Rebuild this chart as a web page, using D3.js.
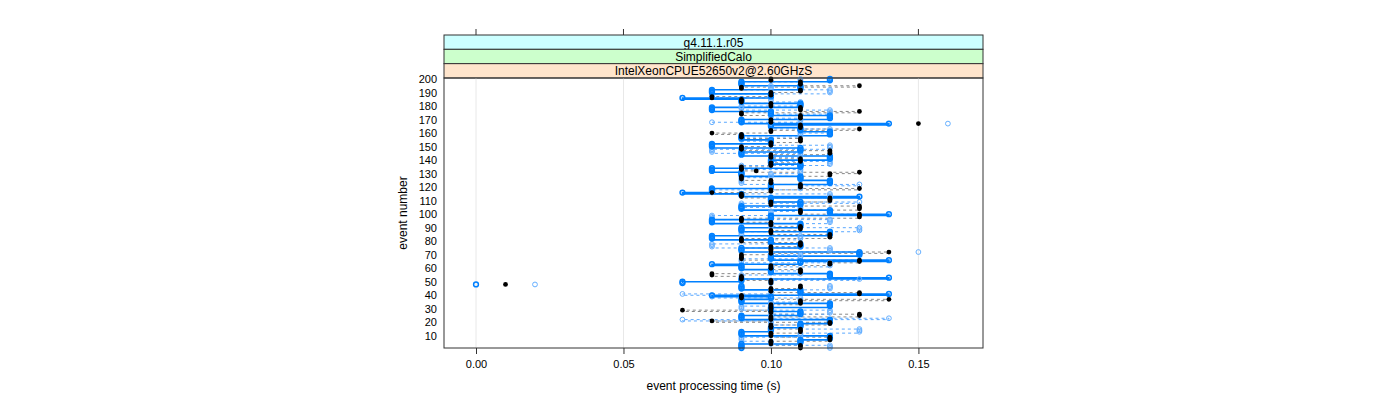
<!DOCTYPE html>
<html><head><meta charset="utf-8">
<script src="https://cdn.jsdelivr.net/npm/d3@7"></script>
<style>body{margin:0;background:#fff;} svg{display:block;font-family:"Liberation Sans",Arial,sans-serif;}</style>
</head><body><svg id="c" width="1400" height="400"></svg>
<script>
const stripLabels = ["g4.11.1.r05", "SimplifiedCalo", "IntelXeonCPUE52650v2@2.60GHzS"];
const xTicks = [0.00, 0.05, 0.10, 0.15];
const yTicks = [10,20,30,40,50,60,70,80,90,100,110,120,130,140,150,160,170,180,190,200];
const events = d3.range(1, 201);
const seriesA = [
.11,.11,.11,.10,.10,.10,.12,.12,.12,.10, .10,.10,.11,.11,.11,.10,.10,.10,.12,.12,
.08,.10,.10,.10,.13,.13,.10,.10,.07,.10, .10,.10,.10,.11,.11,.11,.14,.09,.09,.09,
.13,.13,.10,.10,.10,.11,.11,.01,.10,.10, .10,.09,.09,.09,.08,.08,.11,.11,.11,.10,
.10,.10,.12,.12,.13,.13,.09,.09,.09,.09, .10,.14,.10,.10,.10,.10,.11,.11,.11,.09,
.09,.09,.12,.12,.12,.10,.10,.10,.11,.11, .11,.10,.10,.10,.09,.09,.09,.13,.13,.13,
.11,.11,.11,.13,.13,.13,.10,.10,.10,.12, .12,.12,.09,.09,.09,.08,.10,.10,.13,.11,
.11,.11,.10,.10,.10,.09,.09,.09,.12,.12, .13,.095,.09,.09,.09,.10,.10,.10,.11,.11,
.11,.10,.10,.10,.12,.12,.12,.09,.09,.09, .10,.10,.10,.11,.11,.11,.09,.09,.09,.08,
.10,.10,.13,.11,.11,.11,.15,.10,.10,.10, .11,.11,.11,.09,.09,.13,.11,.11,.11,.10,
.10,.10,.09,.09,.09,.08,.08,.10,.10,.10, .11,.11,.09,.09,.13,.11,.11,.11,.10,.10];
const seriesB = [
.09,.09,.09,.09,.11,.11,.11,.12,.12,.12, .09,.09,.09,.10,.10,.10,.11,.11,.11,.12,
.12,.12,.09,.09,.09,.11,.11,.11,.10,.10, .10,.12,.12,.12,.09,.09,.09,.10,.10,.08,
.14,.11,.11,.11,.09,.09,.09,0.00,.07,.07, .09,.09,.14,.12,.12,.12,.10,.10,.10,.09,
.09,.09,.08,.11,.11,.14,.10,.10,.10,.13, .13,.13,.09,.09,.09,.11,.11,.11,.10,.10,
.10,.08,.08,.08,.12,.12,.12,.09,.09,.09, .11,.11,.11,.08,.08,.08,.10,.10,.10,.14,
.12,.12,.12,.09,.09,.09,.11,.11,.11,.10, .10,.10,.13,.09,.09,.07,.08,.08,.08,.10,
.10,.10,.12,.12,.12,.11,.11,.11,.09,.09, .09,.08,.08,.08,.11,.11,.11,.10,.10,.10,
.12,.12,.12,.09,.09,.09,.11,.11,.11,.08, .08,.08,.10,.10,.10,.09,.09,.09,.12,.12,
.12,.11,.11,.11,.10,.10,.14,.09,.09,.09, .12,.12,.12,.10,.10,.10,.08,.08,.08,.11,
.11,.11,.09,.09,.09,.07,.10,.10,.10,.08, .08,.08,.11,.11,.11,.09,.09,.09,.12,.12];
const seriesC = [
.12,.12,.12,.10,.10,.10,.09,.09,.09,.11, .11,.11,.13,.13,.13,.11,.11,.11,.10,.10,
.10,.07,.14,.10,.10,.10,.12,.12,.12,.09, .09,.09,.10,.10,.10,.11,.11,.11,.08,.08,
.07,.10,.10,.10,.12,.12,.12,.02,.10,.10, .10,.13,.09,.09,.09,.11,.11,.11,.10,.10,
.10,.12,.12,.12,.09,.09,.09,.11,.11,.11, .10,.15,.12,.12,.12,.08,.08,.08,.10,.10,
.10,.11,.11,.11,.09,.09,.09,.13,.13,.13, .10,.10,.10,.12,.12,.12,.08,.08,.08,.10,
.10,.10,.11,.11,.11,.09,.09,.09,.13,.10, .10,.10,.12,.12,.12,.08,.08,.08,.11,.11,
.11,.13,.09,.09,.09,.09,.09,.10,.10,.10, .11,.11,.11,.09,.09,.09,.12,.12,.12,.10,
.10,.10,.11,.11,.11,.08,.08,.08,.12,.12, .12,.10,.10,.10,.09,.09,.09,.11,.11,.11,
.12,.12,.12,.10,.10,.10,.16,.08,.11,.11, .11,.10,.10,.10,.12,.12,.12,.09,.09,.09,
.11,.11,.11,.10,.10,.10,.08,.08,.08,.12, .12,.12,.10,.10,.10,.09,.09,.09,.11,.11];

const svg = d3.select("#c");
const L = 444, R = 983, T = 78, B = 348;
const x = d3.scaleLinear().domain([-0.01085, 0.1719]).range([L, R]);
const y = d3.scaleLinear().domain([1, 200]).range([B, T + 1]);

// strips
const stripCols = ["#ccffff", "#ccffcc", "#ffe5cc"];
const stripTop = 35, stripH = 14.33;
stripLabels.forEach((s, i) => {
  const yy = stripTop + i * stripH;
  svg.append("rect").attr("x", L).attr("y", yy).attr("width", R - L).attr("height", stripH)
    .attr("fill", stripCols[i]).attr("stroke", "#333").attr("stroke-width", 1);
  svg.append("text").attr("x", (L + R) / 2).attr("y", yy + stripH / 2 + 4.5)
    .attr("text-anchor", "middle").attr("font-size", 12).attr("fill", "#000").text(s);
});

// grid
svg.append("g").selectAll("line").data(xTicks).join("line")
  .attr("x1", d => x(d)).attr("x2", d => x(d)).attr("y1", T).attr("y2", B)
  .attr("stroke", "#e8e8e8").attr("stroke-width", 1);

// top ticks
svg.append("g").selectAll("line").data(xTicks).join("line")
  .attr("x1", d => x(d)).attr("x2", d => x(d)).attr("y1", stripTop - 6).attr("y2", stripTop)
  .attr("stroke", "#333");

// bottom axis
const xa = svg.append("g").attr("transform", `translate(0,${B})`)
  .call(d3.axisBottom(x).tickValues(xTicks).tickFormat(d3.format(".2f")).tickSize(6).tickPadding(6));
xa.select(".domain").remove();
xa.selectAll("line").attr("stroke", "#333");
xa.selectAll("text").attr("font-size", 11).attr("font-family", "Liberation Sans, Arial, sans-serif").attr("fill", "#000");

// left axis labels
const ya = svg.append("g").attr("transform", `translate(${L},0)`)
  .call(d3.axisLeft(y).tickValues(yTicks).tickSize(0).tickPadding(7));
ya.select(".domain").remove();
ya.selectAll("text").attr("font-size", 11).attr("font-family", "Liberation Sans, Arial, sans-serif").attr("fill", "#000");

// axis titles
svg.append("text").attr("x", (L + R) / 2).attr("y", 390).attr("text-anchor", "middle")
  .attr("font-size", 12).text("event processing time (s)");
svg.append("text").attr("transform", `translate(407,${(T + B) / 2}) rotate(-90)`)
  .attr("text-anchor", "middle").attr("font-size", 12).text("event number");

const plot = svg.append("g");
// step lines are broken at isolated outlier events
const inBand = v => v >= 0.065 && v <= 0.145;
const line = d3.line().curve(d3.curveStepAfter).defined(d => inBand(d[1]))
  .x(d => x(d[1])).y(d => y(d[0]));
const mk = arr => events.map((e, i) => [e, arr[i]]);

plot.append("path").datum(mk(seriesA)).attr("d", line).attr("fill", "none")
  .attr("stroke", "#555").attr("stroke-width", 0.7).attr("stroke-dasharray", "3,3");
plot.append("path").datum(mk(seriesC)).attr("d", line).attr("fill", "none")
  .attr("stroke", "#5aa8ff").attr("stroke-width", 1).attr("stroke-dasharray", "3,3");
plot.append("path").datum(mk(seriesB)).attr("d", line).attr("fill", "none")
  .attr("stroke", "#0080ff").attr("stroke-width", 1.6);

plot.append("g").selectAll("circle").data(mk(seriesC)).join("circle")
  .attr("cx", d => x(d[1])).attr("cy", d => y(d[0])).attr("r", 2.4)
  .attr("fill", "none").attr("stroke", "#66b0ff").attr("stroke-width", 1);
plot.append("g").selectAll("circle").data(mk(seriesB)).join("circle")
  .attr("cx", d => x(d[1])).attr("cy", d => y(d[0])).attr("r", 2.4)
  .attr("fill", "none").attr("stroke", "#0080ff").attr("stroke-width", 1.5);
plot.append("g").selectAll("circle").data(mk(seriesA)).join("circle")
  .attr("cx", d => x(d[1])).attr("cy", d => y(d[0])).attr("r", 2.4)
  .attr("fill", "#000");

// panel border
svg.append("rect").attr("x", L).attr("y", T).attr("width", R - L).attr("height", B - T)
  .attr("fill", "none").attr("stroke", "#333").attr("stroke-width", 1);
</script></body></html>
